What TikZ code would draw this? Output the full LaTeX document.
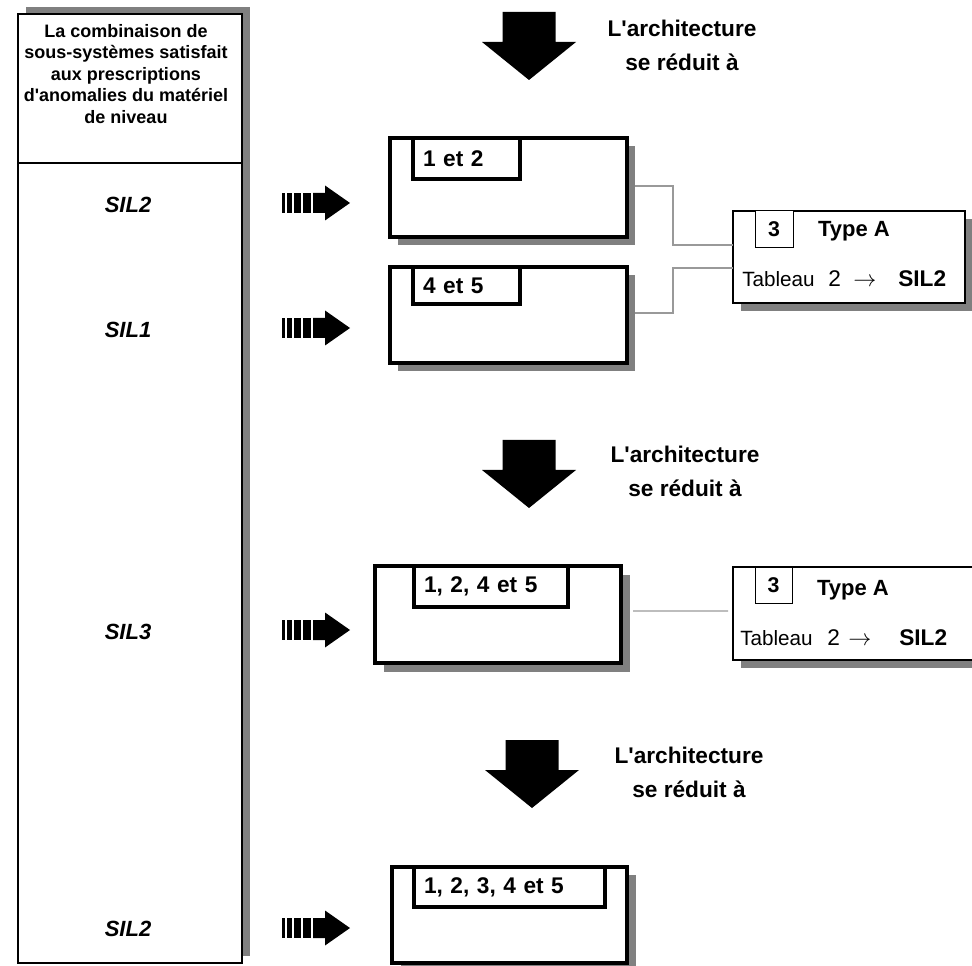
\documentclass[tikz,border=0pt]{standalone}
\usepackage{fontspec}
\setmainfont{Liberation Sans}
\newfontfamily\rawsans{Liberation Sans}
\def\pxu{0.75pt}
\newcommand\stripedarr[1]{%
  \begin{scope}[shift={(0,#1)}]
    \fill (282,-10) rectangle (285,10);
    \fill (287,-10) rectangle (292,10);
    \fill (294,-10) rectangle (301,10);
    \fill (303,-10) rectangle (311,10);
    \fill (313,-10) -- (325,-10) -- (325,-17.5) -- (350,0) -- (325,17.5) -- (325,10) -- (313,10) -- cycle;
  \end{scope}}
\newcommand\bigdownarr[2]{%
  \fill (#1-26.5,#2) -- (#1+26.5,#2) -- (#1+26.5,#2+30) -- (#1+47,#2+30)
        -- (#1,#2+68) -- (#1-47,#2+30) -- (#1-26.5,#2+30) -- cycle;}
\begin{document}
\rawsans
\begin{tikzpicture}[x=0.75pt,y=-0.75pt,
  shadowc/.style={fill=black!50,draw=none},
  heavy/.style={draw=black,line width=2.4pt,fill=white,inner sep=0pt,outer sep=0pt},
  light/.style={draw=black,line width=0.9pt,fill=white,inner sep=0pt,outer sep=0pt},
  conn/.style={draw=black!40,line width=1pt},
  tabbox/.style={heavy,anchor=north west,align=left,inner xsep=7.5pt,
    font=\bfseries\fontsize{17}{20}\selectfont},
  silname/.style={font=\bfseries\itshape\fontsize{16.5}{20}\selectfont,inner sep=0pt},
  archtxt/.style={font=\bfseries\fontsize{17}{25.5}\selectfont,align=center,inner sep=0pt},
  numbox/.style={light,line width=0.75pt,anchor=north west,font=\bfseries\fontsize{16}{18}\selectfont},
  typetxt/.style={font=\bfseries\fontsize{16.5}{20}\selectfont,inner sep=0pt,anchor=base},
  tabltxt/.style={font=\fontsize{15.5}{18}\selectfont,inner sep=0pt,anchor=base west},
  twotxt/.style={font=\fontsize{17}{20}\selectfont,inner sep=0pt,anchor=base west},
  siltxt/.style={font=\bfseries\fontsize{17}{20}\selectfont,inner sep=0pt,anchor=base west}]
\useasboundingbox (0,0) rectangle (972,966);

% left column
\fill[shadowc] (26,7) rectangle (250,956);
\node[light,minimum width=224*\pxu,minimum height=949*\pxu] (col) at (130,488.5) {};
\coordinate (hd) at (0,163);
\draw[line width=0.9pt] (col.west |- hd) -- (col.east |- hd);
\node[align=center,inner sep=0pt,font=\bfseries\fontsize{13.5}{16.1}\selectfont] (hdr) at (126,74)
  {La combinaison de\\sous-systèmes satisfait\\aux prescriptions\\d'anomalies du matériel\\de niveau};
\node[silname] (sa) at (128,205) {SIL2};
\node[silname] (sb) at (128,330) {SIL1};
\node[silname] (sc) at (128,632) {SIL3};
\node[silname] (sd) at (128,929) {SIL2};

% striped arrows
\stripedarr{203}
\stripedarr{328}
\stripedarr{630}
\stripedarr{928}

% big down arrows and texts
\bigdownarr{529}{12}
\bigdownarr{529}{440}
\bigdownarr{532}{740}
\node[archtxt] (ar1) at (682,45) {L'architecture\\se réduit à};
\node[archtxt] (ar2) at (685,471) {L'architecture\\se réduit à};
\node[archtxt] (ar3) at (689,772) {L'architecture\\se réduit à};

% box 1
\fill[shadowc] (398,146) rectangle (635,245);
\node[heavy,minimum width=237*\pxu,minimum height=99*\pxu] (b1) at (508.5,187.5) {};
\node[tabbox,minimum width=107*\pxu,minimum height=41*\pxu,text width=87*\pxu] (t1) at (413,138) {1 et 2};

% box 2
\fill[shadowc] (398,275) rectangle (635,371);
\node[heavy,minimum width=237*\pxu,minimum height=96*\pxu] (b2) at (508.5,315) {};
\node[tabbox,minimum width=107*\pxu,minimum height=37*\pxu,text width=87*\pxu] (t2) at (413,267) {4 et 5};

% box 3
\fill[shadowc] (384,575) rectangle (630,672);
\node[heavy,minimum width=246*\pxu,minimum height=97*\pxu] (b3) at (498,614.5) {};
\node[tabbox,minimum width=154*\pxu,minimum height=41*\pxu,text width=134*\pxu] (t3) at (414,566) {1, 2, 4 et 5};

% box 4
\fill[shadowc] (401,875) rectangle (636,972);
\node[heavy,minimum width=235*\pxu,minimum height=96*\pxu] (b4) at (509.5,915) {};
\node[tabbox,minimum width=191*\pxu,minimum height=40*\pxu,text width=171*\pxu] (t4) at (414,867) {1, 2, 3, 4 et 5};

% Type A box 1
\fill[shadowc] (741,219) rectangle (972,311);
\node[light,minimum width=232*\pxu,minimum height=92*\pxu] (ta1) at (849,257) {};
\node[numbox,minimum width=38*\pxu,minimum height=37*\pxu] (n1) at (755,211) {3};
\node[typetxt] (ty1) at (854,237) {Type A};
\node[tabltxt] (tb1) at (742,287) {Tableau};
\node[twotxt] (tw1) at (828,287) {2};
\node[twotxt] (tr1) at (853,287) {$\rightarrow$};
\node[siltxt] (sl1) at (898,287) {SIL2};

% Type A box 2
\fill[shadowc] (741,575) rectangle (993,668);
\node[light,minimum width=252*\pxu,minimum height=93*\pxu] (ta2) at (859,613.5) {};
\node[numbox,minimum width=37*\pxu,minimum height=36*\pxu] (n2) at (755,567) {3};
\node[typetxt] (ty2) at (853,595) {Type A};
\node[tabltxt] (tb2) at (740,645) {Tableau};
\node[twotxt] (tw2) at (827,645) {2};
\node[twotxt] (tr2) at (848,645) {$\rightarrow$};
\node[siltxt] (sl2) at (899,645) {SIL2};

% connectors
\draw[conn] ([xshift=6pt,yshift=1.1pt]b1.east) -| ([xshift=-45pt,yshift=9pt]ta1.west) -- ([yshift=9pt]ta1.west);
\draw[conn] ([xshift=6pt,yshift=1.5pt]b2.east) -| ([xshift=-45pt,yshift=-8.25pt]ta1.west) -- ([yshift=-8.25pt]ta1.west);
\draw[conn] ([xshift=9pt,yshift=2.6pt]b3.east) -- ([xshift=-3.75pt,yshift=1.9pt]ta2.west);
\end{tikzpicture}
\end{document}
